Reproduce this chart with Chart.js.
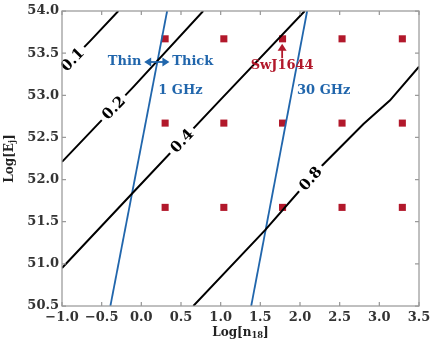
<!DOCTYPE html>
<html>
<head>
<meta charset="utf-8">
<script src="https://cdn.jsdelivr.net/npm/chart.js@4"></script>
<style>
  html, body { margin: 0; padding: 0; background: #fff; }
  #wrap { width: 436px; height: 346px; }
</style>
</head>
<body>
<div id="wrap"><canvas id="grafico" width="436" height="346"></canvas></div>
<script>
// red squares (grid of Log[n18] x Log[Ej])
const quadX = [0.3, 1.04, 1.78, 2.53, 3.29];
const quadY = [53.67, 52.67, 51.67];

// black contours
const c01X = [-1.0, -0.65, -0.29];
const c01Y = [53.30, 53.64, 54.0];
const c02X = [-1.0, -0.1, 0.78];
const c02Y = [52.21, 53.1, 54.0];
const c04X = [-1.0, -0.11, 0.99, 2.06];
const c04Y = [50.95, 51.84, 52.94, 54.0];
const c08X = [0.655, 1.56, 2.22, 2.8, 3.135, 3.5];
const c08Y = [50.5, 51.40, 52.11, 52.66, 52.94, 53.34];

// contour label names and where they sit
const rotulos = ["0.1", "0.2", "0.4", "0.8"];
const rotuloX = [-0.87, -0.35, 0.51, 2.13];

// blue lines (thin / thick boundary)
const b1X = [-0.39, 0.325];
const b1Y = [50.5, 54.0];
const b30X = [1.385, 2.09];
const b30Y = [50.5, 54.0];

// axis ticks
const ticksX = [-1.0, -0.5, 0.0, 0.5, 1.0, 1.5, 2.0, 2.5, 3.0, 3.5];
const ticksY = [50.5, 51.0, 51.5, 52.0, 52.5, 53.0, 53.5, 54.0];

const AZUL = "#2166ac";
const VERMELHO = "#b2182b";
const FONTE = "'DejaVu Serif', serif";

function pontos(xs, ys) {
    return xs.map((x, i) => ({ x: x, y: ys[i] }));
}

let quadrados = [];
quadY.forEach(y => quadX.forEach(x => quadrados.push({ x: x, y: y })));

const contornos = [[c01X, c01Y], [c02X, c02Y], [c04X, c04Y], [c08X, c08Y]];

function linha(xs, ys, cor, larg) {
    return {
        data: pontos(xs, ys),
        showLine: true,
        borderColor: cor,
        borderWidth: larg,
        pointRadius: 0,
        fill: false,
        tension: 0
    };
}

function interp(xs, ys, x) {
    for (let i = 0; i < xs.length - 1; i++) {
        if (x >= xs[i] && x <= xs[i + 1]) {
            let t = (x - xs[i]) / (xs[i + 1] - xs[i]);
            return { y: ys[i] + t * (ys[i + 1] - ys[i]), i: i };
        }
    }
    return { y: ys[0], i: 0 };
}

function textoSub(ctx, partes, x, y, tam) {
    // partes: [texto, sub?]
    let total = 0;
    partes.forEach(p => {
        ctx.font = "bold " + (p[1] ? tam * 0.7 : tam) + "px " + FONTE;
        total += ctx.measureText(p[0]).width;
    });
    let cx = x - total / 2;
    partes.forEach(p => {
        ctx.font = "bold " + (p[1] ? tam * 0.7 : tam) + "px " + FONTE;
        ctx.fillText(p[0], cx, p[1] ? y + tam * 0.25 : y);
        cx += ctx.measureText(p[0]).width;
    });
}

const extras = {
    id: "extras",
    afterDatasetsDraw(chart) {
        const ctx = chart.ctx;
        const sx = chart.scales.x;
        const sy = chart.scales.y;
        const area = chart.chartArea;

        // contour labels, inline
        ctx.save();
        contornos.forEach((c, k) => {
            let r = interp(c[0], c[1], rotuloX[k]);
            let px = sx.getPixelForValue(rotuloX[k]);
            let py = sy.getPixelForValue(r.y);
            let i = r.i;
            let ang = Math.atan2(
                sy.getPixelForValue(c[1][i + 1]) - sy.getPixelForValue(c[1][i]),
                sx.getPixelForValue(c[0][i + 1]) - sx.getPixelForValue(c[0][i]));
            ctx.save();
            ctx.translate(px, py);
            ctx.rotate(ang);
            ctx.font = "bold 15px " + FONTE;
            let w = ctx.measureText(rotulos[k]).width;
            ctx.fillStyle = "#fff";
            ctx.fillRect(-w / 2 - 4, -6, w + 8, 12);
            ctx.fillStyle = "#000";
            ctx.textAlign = "center";
            ctx.textBaseline = "middle";
            ctx.fillText(rotulos[k], 0, 1);
            ctx.restore();
        });
        ctx.restore();

        // annotations
        ctx.save();
        ctx.font = "bold 13px " + FONTE;
        ctx.textBaseline = "middle";
        ctx.fillStyle = AZUL;
        let yThin = sy.getPixelForValue(53.395);
        ctx.textAlign = "right";
        ctx.fillText("Thin", sx.getPixelForValue(0.0), yThin);
        ctx.textAlign = "left";
        ctx.fillText("Thick", sx.getPixelForValue(0.39), yThin);
        ctx.fillText("1 GHz", sx.getPixelForValue(0.213), sy.getPixelForValue(53.05));
        ctx.fillText("30 GHz", sx.getPixelForValue(1.963), sy.getPixelForValue(53.05));

        // double arrow
        let a0 = sx.getPixelForValue(0.036), a1 = sx.getPixelForValue(0.354);
        ctx.strokeStyle = AZUL;
        ctx.lineWidth = 1.8;
        ctx.beginPath();
        ctx.moveTo(a0 + 4, yThin);
        ctx.lineTo(a1 - 4, yThin);
        ctx.stroke();
        ctx.beginPath();
        ctx.moveTo(a0, yThin); ctx.lineTo(a0 + 7, yThin - 4.5); ctx.lineTo(a0 + 7, yThin + 4.5); ctx.closePath();
        ctx.moveTo(a1, yThin); ctx.lineTo(a1 - 7, yThin - 4.5); ctx.lineTo(a1 - 7, yThin + 4.5); ctx.closePath();
        ctx.fill();

        // SwJ1644
        ctx.fillStyle = VERMELHO;
        ctx.strokeStyle = VERMELHO;
        ctx.textAlign = "center";
        let xs = sx.getPixelForValue(1.775);
        ctx.fillText("SwJ1644", xs, sy.getPixelForValue(53.35));
        let yb = sy.getPixelForValue(53.44), yt = sy.getPixelForValue(53.61);
        ctx.beginPath();
        ctx.moveTo(xs, yb); ctx.lineTo(xs, yt + 5);
        ctx.stroke();
        ctx.beginPath();
        ctx.moveTo(xs, yt); ctx.lineTo(xs - 4.5, yt + 7); ctx.lineTo(xs + 4.5, yt + 7); ctx.closePath();
        ctx.fill();
        ctx.restore();

        // frame and inward ticks on all sides
        ctx.save();
        ctx.strokeStyle = "#9a9a9a";
        ctx.lineWidth = 1.25;
        ctx.strokeRect(area.left, area.top, area.right - area.left, area.bottom - area.top);
        ctx.beginPath();
        ticksX.forEach(v => {
            let p = sx.getPixelForValue(v);
            ctx.moveTo(p, area.bottom); ctx.lineTo(p, area.bottom - 4);
            ctx.moveTo(p, area.top); ctx.lineTo(p, area.top + 4);
        });
        ticksY.forEach(v => {
            let p = sy.getPixelForValue(v);
            ctx.moveTo(area.left, p); ctx.lineTo(area.left + 4, p);
            ctx.moveTo(area.right, p); ctx.lineTo(area.right - 4, p);
        });
        ctx.stroke();
        ctx.restore();

        // axis titles
        ctx.save();
        ctx.fillStyle = "#222";
        ctx.textAlign = "left";
        ctx.textBaseline = "middle";
        textoSub(ctx, [["Log[n", false], ["18", true], ["]", false]],
            (area.left + area.right) / 2, 333, 12);
        ctx.translate(10, (area.top + area.bottom) / 2);
        ctx.rotate(-Math.PI / 2);
        textoSub(ctx, [["Log[E", false], ["j", true], ["]", false]], 0, 0, 12);
        ctx.restore();
    }
};

let grafico = new Chart(document.getElementById("grafico"), {
    type: "scatter",
    data: {
        datasets: [
            linha(c01X, c01Y, "#000", 2),
            linha(c02X, c02Y, "#000", 2),
            linha(c04X, c04Y, "#000", 2),
            linha(c08X, c08Y, "#000", 2),
            linha(b1X, b1Y, AZUL, 1.8),
            linha(b30X, b30Y, AZUL, 1.8),
            {
                data: quadrados,
                pointStyle: "rect",
                pointRadius: 5,
                pointBackgroundColor: VERMELHO,
                pointBorderWidth: 0,
                showLine: false
            }
        ]
    },
    options: {
        responsive: false,
        animation: false,
        events: [],
        layout: { padding: { top: 11, right: 17, left: 0, bottom: 0 } },
        plugins: { legend: { display: false }, tooltip: { enabled: false } },
        scales: {
            x: {
                type: "linear",
                min: -1.0,
                max: 3.5,
                afterBuildTicks: s => { s.ticks = ticksX.map(v => ({ value: v })); },
                afterFit: s => { s.height = 40; },
                grid: { display: false, drawTicks: false },
                border: { display: false },
                ticks: {
                    autoSkip: false,
                    maxRotation: 0,
                    padding: 4,
                    color: "#333",
                    font: { family: FONTE, size: 13, weight: "bold" },
                    callback: v => v.toFixed(1).replace("-", "\u2212")
                }
            },
            y: {
                type: "linear",
                min: 50.5,
                max: 54.0,
                afterBuildTicks: s => { s.ticks = ticksY.map(v => ({ value: v })); },
                afterFit: s => { s.width = 62; },
                grid: { display: false, drawTicks: false },
                border: { display: false },
                ticks: {
                    autoSkip: false,
                    padding: 3,
                    color: "#333",
                    font: { family: FONTE, size: 13, weight: "bold" },
                    callback: v => v.toFixed(1)
                }
            }
        }
    },
    plugins: [extras]
});
</script>
</body>
</html>
